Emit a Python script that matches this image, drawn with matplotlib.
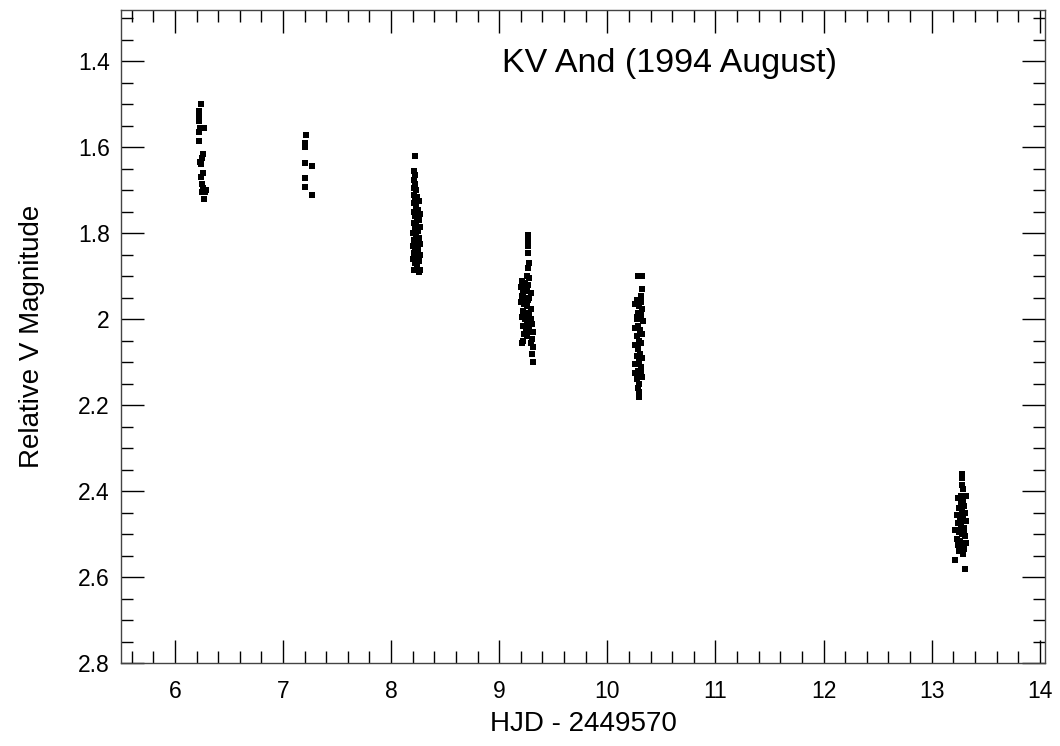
import matplotlib
matplotlib.use("Agg")
import matplotlib.pyplot as plt
from matplotlib.ticker import MultipleLocator

plt.rcParams["font.family"] = ["Liberation Sans", "DejaVu Sans"]

# Night of HJD 2449576
n1_hjd = [6.24, 6.22, 6.22, 6.22, 6.23, 6.22, 6.27, 6.22, 6.26, 6.25,
          6.24, 6.23, 6.26, 6.24, 6.25, 6.26, 6.29, 6.25, 6.27, 6.28]
n1_mag = [1.50, 1.515, 1.53, 1.54, 1.555, 1.565, 1.555, 1.585, 1.615, 1.625,
          1.64, 1.635, 1.66, 1.67, 1.685, 1.695, 1.70, 1.705, 1.72, 1.705]

# Night of HJD 2449577
n2_hjd = [7.21, 7.20, 7.20, 7.20, 7.27, 7.20, 7.20, 7.27]
n2_mag = [1.572, 1.59, 1.60, 1.637, 1.644, 1.672, 1.693, 1.71]

# Night of HJD 2449578
n3_hjd = [8.22, 8.21, 8.22, 8.21, 8.22, 8.21, 8.23, 8.21, 8.24, 8.22,
          8.26, 8.21, 8.23, 8.25, 8.21, 8.27, 8.22, 8.24, 8.26, 8.21,
          8.23, 8.27, 8.22, 8.25, 8.20, 8.23, 8.26, 8.21, 8.24, 8.27,
          8.20, 8.22, 8.25, 8.21, 8.27, 8.23, 8.20, 8.26, 8.22, 8.24,
          8.21, 8.27, 8.26, 8.22, 8.25, 8.21]
n3_mag = [1.62, 1.655, 1.665, 1.675, 1.685, 1.695, 1.70, 1.71, 1.715, 1.72,
          1.725, 1.73, 1.74, 1.745, 1.75, 1.755, 1.76, 1.765, 1.77, 1.775,
          1.78, 1.785, 1.79, 1.795, 1.80, 1.805, 1.81, 1.815, 1.82, 1.825,
          1.83, 1.835, 1.84, 1.845, 1.85, 1.855, 1.86, 1.865, 1.87, 1.875,
          1.885, 1.885, 1.89, 1.80, 1.76, 1.82]

# Night of HJD 2449579
n4_hjd = [9.27, 9.27, 9.27, 9.27, 9.28, 9.27, 9.26, 9.28, 9.21, 9.24,
          9.27, 9.20, 9.23, 9.26, 9.29, 9.21, 9.24, 9.27, 9.20, 9.23,
          9.26, 9.29, 9.22, 9.25, 9.28, 9.21, 9.24, 9.27, 9.30, 9.22,
          9.25, 9.28, 9.31, 9.23, 9.26, 9.30, 9.22, 9.29, 9.31, 9.21,
          9.30, 9.31, 9.25, 9.22, 9.28, 9.24, 9.27, 9.23, 9.29, 9.26]
n4_mag = [1.805, 1.815, 1.83, 1.845, 1.87, 1.88, 1.90, 1.905, 1.91, 1.915,
          1.92, 1.925, 1.93, 1.935, 1.94, 1.945, 1.95, 1.955, 1.96, 1.965,
          1.97, 1.975, 1.98, 1.985, 1.99, 1.995, 2.00, 2.005, 2.01, 2.015,
          2.02, 2.025, 2.03, 2.035, 2.04, 2.045, 2.05, 2.055, 2.065, 2.055,
          2.08, 2.10, 1.96, 1.94, 1.95, 1.99, 2.03, 1.92, 2.00, 2.01]

# Night of HJD 2449580
n5_hjd = [10.28, 10.32, 10.32, 10.31, 10.27, 10.31, 10.26, 10.29, 10.32, 10.28,
          10.31, 10.27, 10.30, 10.33, 10.28, 10.26, 10.30, 10.32, 10.27, 10.29,
          10.31, 10.26, 10.28, 10.30, 10.27, 10.32, 10.29, 10.26, 10.31, 10.28,
          10.26, 10.30, 10.32, 10.27, 10.29, 10.28, 10.29, 10.29, 10.31, 10.27]
n5_mag = [1.90, 1.90, 1.93, 1.945, 1.955, 1.96, 1.965, 1.97, 1.975, 1.985,
          1.99, 1.995, 2.00, 2.005, 2.015, 2.02, 2.025, 2.035, 2.04, 2.05,
          2.055, 2.06, 2.07, 2.08, 2.085, 2.09, 2.10, 2.105, 2.11, 2.12,
          2.125, 2.13, 2.135, 2.14, 2.15, 2.16, 2.17, 2.18, 2.12, 2.00]

# Night of HJD 2449583
n6_hjd = [13.28, 13.28, 13.28, 13.29, 13.27, 13.32, 13.24, 13.29, 13.27, 13.30,
          13.25, 13.28, 13.31, 13.23, 13.26, 13.29, 13.32, 13.24, 13.27, 13.30,
          13.22, 13.25, 13.28, 13.31, 13.23, 13.26, 13.29, 13.32, 13.24, 13.27,
          13.30, 13.25, 13.29, 13.22, 13.31, 13.26, 13.30, 13.27]
n6_mag = [2.36, 2.37, 2.385, 2.395, 2.41, 2.41, 2.415, 2.42, 2.43, 2.435,
          2.44, 2.445, 2.45, 2.455, 2.46, 2.465, 2.47, 2.475, 2.48, 2.485,
          2.49, 2.495, 2.50, 2.505, 2.51, 2.515, 2.52, 2.52, 2.525, 2.53,
          2.535, 2.54, 2.545, 2.56, 2.58, 2.47, 2.50, 2.49]

noches = [
    (n1_hjd, n1_mag),
    (n2_hjd, n2_mag),
    (n3_hjd, n3_mag),
    (n4_hjd, n4_mag),
    (n5_hjd, n5_mag),
    (n6_hjd, n6_mag),
]

fig = plt.figure(figsize=(10.6, 7.46), dpi=100)
ax = fig.add_axes([0.114, 0.111, 0.872, 0.876])

for hjd, mag in noches:
    ax.plot(hjd, mag, linestyle="none", marker="s", markersize=4.6,
            color="black", markeredgewidth=0)

ax.set_xlim(5.5, 14.05)
ax.set_ylim(2.8, 1.28)

ax.xaxis.set_major_locator(MultipleLocator(1))
ax.xaxis.set_minor_locator(MultipleLocator(0.2))
ax.yaxis.set_major_locator(MultipleLocator(0.2))
ax.yaxis.set_minor_locator(MultipleLocator(0.05))
ax.yaxis.set_major_formatter(
    matplotlib.ticker.FuncFormatter(lambda v, p: f"{v:g}")
)

ax.tick_params(which="both", direction="in", top=True, right=True,
               color="black", width=1)
ax.tick_params(which="major", length=16.5, labelsize=16.5)
ax.tick_params(axis="x", which="major", pad=12)
ax.tick_params(axis="y", which="major", pad=8)
ax.tick_params(which="minor", length=8.6)

for lado in ax.spines.values():
    lado.set_color("#444444")
    lado.set_linewidth(1)

ax.set_xlabel("HJD - 2449570", fontsize=20, labelpad=6)
ax.set_ylabel("Relative V Magnitude", fontsize=20, labelpad=24)
ax.text(0.594, 0.918, "KV And (1994 August)", transform=ax.transAxes,
        ha="center", va="center", fontsize=24.5)

fig.savefig("out.png", dpi=100)
